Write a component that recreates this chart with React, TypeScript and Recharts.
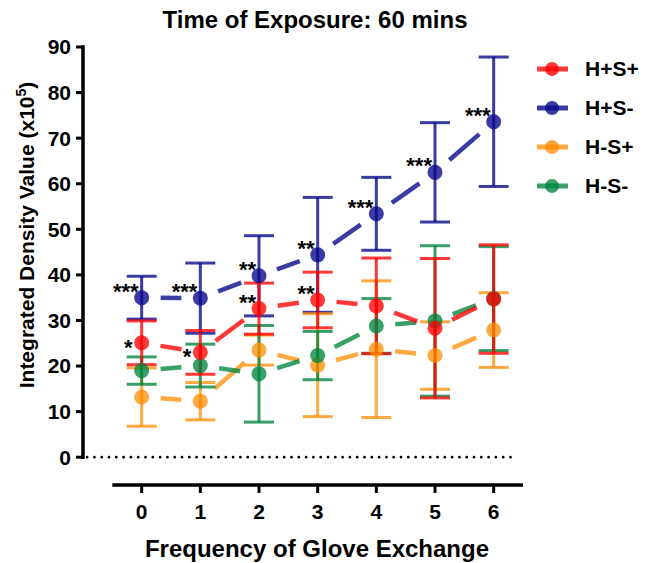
import React from 'react';
import { LineChart, Line, XAxis, YAxis, ErrorBar, ReferenceLine, Legend, LabelList } from 'recharts';

// ---------- data ----------
const categories = [0, 1, 2, 3, 4, 5, 6];
const seriesNames = ['H+S+', 'H+S-', 'H-S+', 'H-S-'];

const hpSp = [25.1, 23.0, 32.6, 34.5, 33.2, 28.3, 34.7]; // H+S+
const hpSpErr = [4.8, 4.8, 5.6, 6.1, 10.5, 15.3, 11.9];
const hpSm = [35.0, 34.9, 39.8, 44.4, 53.4, 62.5, 73.6]; // H+S-
const hpSmErr = [4.7, 7.7, 8.8, 12.6, 8.0, 10.9, 14.2];
const hmSp = [13.2, 12.3, 23.5, 20.2, 23.7, 22.3, 27.9]; // H-S+
const hmSpErr = [6.4, 4.1, 3.3, 11.3, 15.0, 7.4, 8.2];
const hmSm = [19.0, 20.1, 18.3, 22.3, 28.8, 29.9, 34.8]; // H-S-
const hmSmErr = [3.0, 4.7, 10.6, 5.3, 6.0, 16.5, 11.4];

const sigHpSp = ['*', '*', '**', '**', '', '', ''];
const sigHpSm = ['***', '***', '**', '**', '***', '***', '***'];

const yTicks = [0, 10, 20, 30, 40, 50, 60, 70, 80, 90];
const xTicks = [0, 1, 2, 3, 4, 5, 6];

// ---------- layout / style ----------
const W = 647;
const H = 563;
const MARGIN = { top: 47, right: 124, bottom: 0, left: 23 };
const Y_AXIS_W = 60;
const X_AXIS_H = 78;
const X_DOMAIN: [number, number] = [-1, 6.5];
const Y_DOMAIN: [number, number] = [-6.1, 90];
const PLOT_W = W - MARGIN.left - MARGIN.right - Y_AXIS_W;
const PLOT_H = H - MARGIN.top - MARGIN.bottom - X_AXIS_H;
const PX_X = PLOT_W / (X_DOMAIN[1] - X_DOMAIN[0]);
const PX_Y = PLOT_H / (Y_DOMAIN[1] - Y_DOMAIN[0]);

const FONT = '"Liberation Sans", Arial, Helvetica, sans-serif';
const C_RED = 'rgba(255,0,0,0.78)';
const C_BLUE = 'rgba(10,10,140,0.8)';
const C_ORANGE = 'rgba(255,140,0,0.75)';
const C_GREEN = 'rgba(0,133,61,0.78)';

const rows = categories.map((c, i) => ({
  x: c,
  hpSp: hpSp[i],
  hpSpErr: hpSpErr[i],
  hpSm: hpSm[i],
  hpSmErr: hpSmErr[i],
  hmSp: hmSp[i],
  hmSpErr: hmSpErr[i],
  hmSm: hmSm[i],
  hmSmErr: hmSmErr[i],
  sigHpSp: sigHpSp[i],
  sigHpSm: sigHpSm[i],
}));

// one centred dash per segment, leaving a gap around every marker
function segmentDash(vals: number[]): string {
  const g = 19;
  const arr: number[] = [0, g];
  for (let i = 0; i < vals.length - 1; i++) {
    const L = Math.hypot(PX_X, (vals[i + 1] - vals[i]) * PX_Y);
    arr.push(Math.max(L - 2 * g, 0), 2 * g);
  }
  return arr.join(' ');
}

const StarLabel = (props: any) => {
  const { x, y, value } = props;
  if (!value) return null;
  const single = String(value).length === 1;
  return (
    <text
      x={x - (single ? 9 : 3)}
      y={y + (single ? 12 : 1)}
      textAnchor="end"
      fontFamily={FONT}
      fontSize={22}
      fontWeight="bold"
      fill="#000"
    >
      {value}
    </text>
  );
};

const renderLegend = (props: any) => {
  const items = [...(props.payload || [])].sort(
    (a: any, b: any) => seriesNames.indexOf(a.value) - seriesNames.indexOf(b.value)
  );
  return (
    <div style={{ fontFamily: FONT }}>
      {items.map((it: any) => (
        <div key={it.value} style={{ display: 'flex', alignItems: 'center', height: 39 }}>
          <svg width={50} height={20} style={{ display: 'block' }}>
            <line x1={2} y1={10} x2={33} y2={10} stroke={it.color} strokeWidth={5} />
            <circle cx={17} cy={10} r={7} fill={it.color} />
          </svg>
          <span style={{ fontSize: 21, fontWeight: 'bold', color: '#000', lineHeight: '20px' }}>{it.value}</span>
        </div>
      ))}
    </div>
  );
};

function series(key: string, errKey: string, name: string, color: string, vals: number[], sigKey?: string) {
  return (
    <Line
      key={key}
      type="linear"
      dataKey={key}
      name={name}
      stroke={color}
      strokeWidth={4.5}
      strokeDasharray={segmentDash(vals)}
      dot={{ r: 7.5, fill: color, stroke: 'none', strokeWidth: 0 }}
      activeDot={false}
      isAnimationActive={false}
    >
      <ErrorBar dataKey={errKey} direction="y" width={15} strokeWidth={3} stroke={color} isAnimationActive={false} />
      {sigKey ? <LabelList dataKey={sigKey} content={StarLabel} /> : null}
    </Line>
  );
}

export default function App() {
  return (
    <div style={{ position: 'absolute', left: 0, top: 0, background: '#fff' }}>
      <LineChart width={W} height={H} data={rows} margin={MARGIN}>
        <text x={315} y={28} textAnchor="middle" fontFamily={FONT} fontSize={24} fontWeight="bold" fill="#000">
          Time of Exposure: 60 mins
        </text>
        <text
          transform="translate(34,235) rotate(-90)"
          textAnchor="middle"
          fontFamily={FONT}
          fontSize={21}
          fontWeight="bold"
          fill="#000"
        >
          Integrated Density Value (x10
          <tspan dy={-8} fontSize={14}>5</tspan>
          <tspan dy={8}>)</tspan>
        </text>
        <text x={317} y={557} textAnchor="middle" fontFamily={FONT} fontSize={24} fontWeight="bold" fill="#000">
          Frequency of Glove Exchange
        </text>
        <XAxis
          type="number"
          dataKey="x"
          domain={X_DOMAIN}
          ticks={xTicks}
          height={X_AXIS_H}
          axisLine={false}
          tickLine={{ stroke: '#000', strokeWidth: 3 }}
          tickSize={8}
          tickMargin={11}
          tick={{ fill: '#000', fontSize: 21, fontWeight: 'bold', fontFamily: FONT }}
          allowDataOverflow
        />
        <YAxis
          type="number"
          domain={Y_DOMAIN}
          ticks={yTicks}
          width={Y_AXIS_W}
          axisLine={false}
          tickLine={{ stroke: '#000', strokeWidth: 3 }}
          tickSize={7}
          tickMargin={5}
          tick={{ fill: '#000', fontSize: 21, fontWeight: 'bold', fontFamily: FONT }}
          allowDataOverflow
        />
        <ReferenceLine
          segment={[{ x: -1, y: 0 }, { x: -1, y: 90 }]}
          stroke="#000"
          strokeWidth={3.5}
          strokeLinecap="square"
          ifOverflow="visible"
        />
        <ReferenceLine
          segment={[{ x: -0.5, y: Y_DOMAIN[0] }, { x: 6.5, y: Y_DOMAIN[0] }]}
          stroke="#000"
          strokeWidth={3.5}
          ifOverflow="visible"
        />
        <ReferenceLine
          segment={[{ x: -0.93, y: 0 }, { x: 6.37, y: 0 }]}
          stroke="#000"
          strokeWidth={2.8}
          strokeDasharray="0 7.3"
          strokeLinecap="round"
          ifOverflow="visible"
        />
        {series('hpSm', 'hpSmErr', 'H+S-', C_BLUE, hpSm, 'sigHpSm')}
        {series('hmSp', 'hmSpErr', 'H-S+', C_ORANGE, hmSp)}
        {series('hmSm', 'hmSmErr', 'H-S-', C_GREEN, hmSm)}
        {series('hpSp', 'hpSpErr', 'H+S+', C_RED, hpSp, 'sigHpSp')}
        <Legend
          layout="vertical"
          align="center"
          verticalAlign="middle"
          content={renderLegend}
          wrapperStyle={{ left: 535, top: 49.5, width: 112 }}
        />
      </LineChart>
    </div>
  );
}
